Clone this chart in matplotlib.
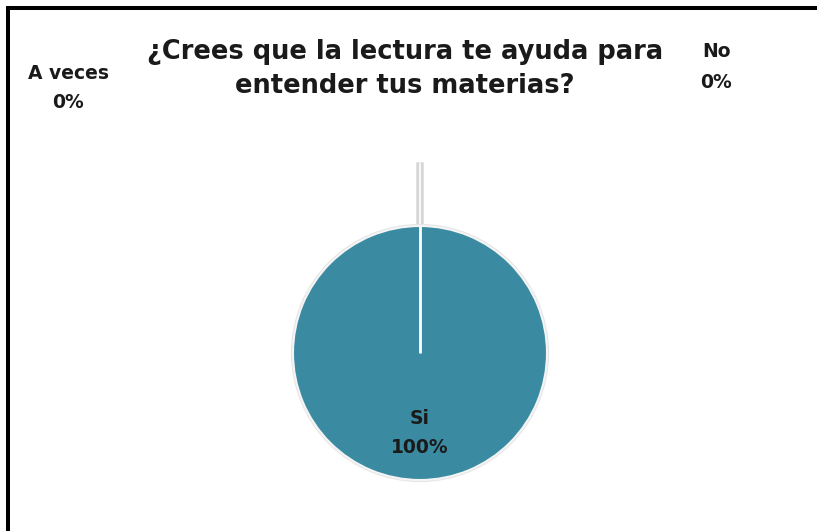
import matplotlib
matplotlib.use("Agg")
import numpy as np
import matplotlib.pyplot as plt
import matplotlib.patheffects as pe
from matplotlib.patches import Rectangle

categories = ["Si", "No", "A veces"]
values = [100, 0, 0]
percent_labels = ["100%", "0%", "0%"]
title_text = "¿Crees que la lectura te ayuda para\nentender tus materias?"

W, H = 817, 531
fig = plt.figure(figsize=(W / 100, H / 100), dpi=100)
fig.patch.set_facecolor("white")
ax = fig.add_axes([0, 0, 1, 1])

cx, cy, R = 420, 353, 127  # pixel center and radius
explode = [0.0, 0.5, 0.5]
wedges, _ = ax.pie(values, startangle=90, counterclock=True, explode=explode,
                   colors=["#3A8BA2", "#3A8BA2", "#3A8BA2"], radius=1.0,
                   wedgeprops=dict(linewidth=1.5, edgecolor="#f4f4f4"))
for w in wedges[1:]:
    w.set_edgecolor("white")
    w.set_linewidth(1.2)
    w.set_zorder(0)
    w.set_path_effects([pe.Stroke(linewidth=5, foreground="#d6d6d6"), pe.Normal()])
main = wedges[0]
main.set_zorder(2)
main.set_path_effects([pe.Stroke(linewidth=3, foreground="#e6e6e6"), pe.Normal()])

# white radial edge of the full "Si" wedge (at its start angle)
ang = np.deg2rad(main.theta1)
ax.plot([main.center[0], main.center[0] + main.r * np.cos(ang)],
        [main.center[1], main.center[1] + main.r * np.sin(ang)],
        color="white", lw=2.0, zorder=3, solid_capstyle="butt")

ax.set_xlim(-cx / R, (W - cx) / R)
ax.set_ylim(-(H - cy) / R, cy / R)
ax.set_aspect("auto")
ax.axis("off")

def fx(px):
    return px / W

def fy(py):
    return 1 - py / H

fig.text(fx(405), fy(69), title_text, ha="center", va="center", fontsize=18.5,
         fontweight="bold", color="#1a1a1a", linespacing=1.38, family="DejaVu Sans")

label_pos = {"Si": (420, 433), "No": (716, 67), "A veces": (68, 88)}
label_ls = {"Si": 1.62, "No": 1.75, "A veces": 1.62}
for cat, pl in zip(categories, percent_labels):
    x, y = label_pos[cat]
    fig.text(fx(x), fy(y), f"{cat}\n{pl}", ha="center", va="center",
             fontsize=13.5, fontweight="bold", color="#1a1a1a",
             linespacing=label_ls[cat], family="DejaVu Sans")

# black frame (top and left)
fig.patches.append(Rectangle((fx(6), fy(10)), 1 - fx(6), 4 / H, transform=fig.transFigure,
                             facecolor="black", edgecolor="none", zorder=5))
fig.patches.append(Rectangle((fx(6), 0), 4 / W, fy(6), transform=fig.transFigure,
                             facecolor="black", edgecolor="none", zorder=5))

fig.savefig("out.png", dpi=100, facecolor="white")
